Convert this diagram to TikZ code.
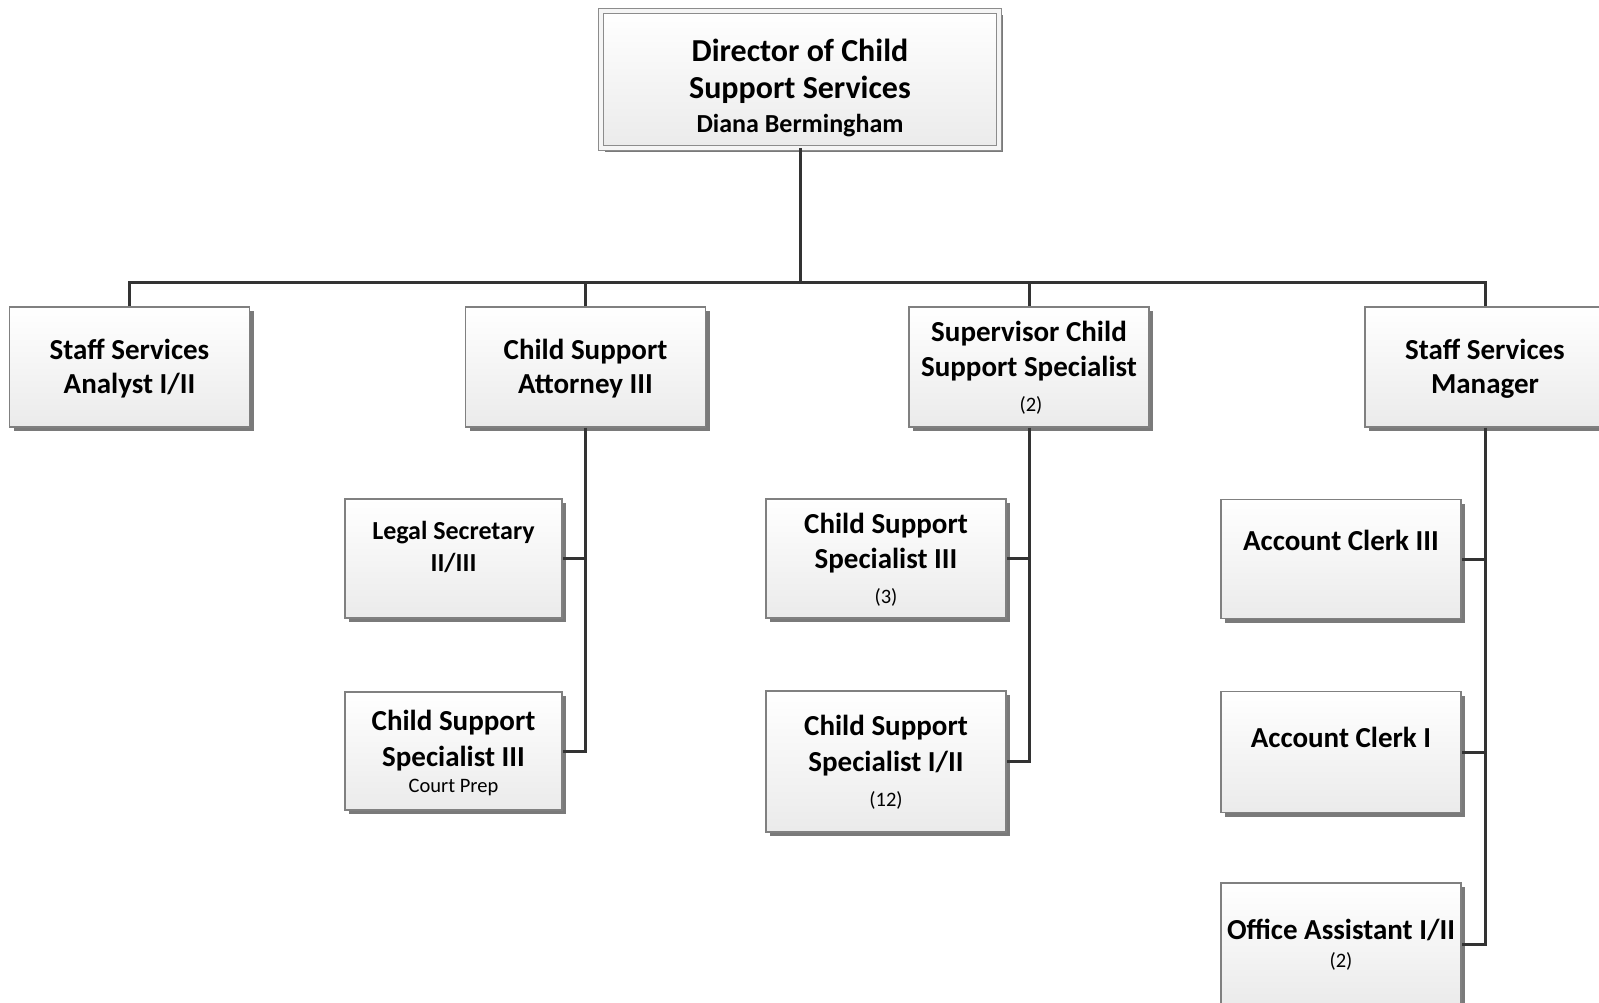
\documentclass[tikz,border=0pt]{standalone}
\usepackage{fontspec}
\setmainfont{Carlito}
\usetikzlibrary{shadows}

\tikzset{
  box/.style={draw=black!50, line width=1.1pt,
    top color=white, bottom color=black!8,
    minimum width=240pt, minimum height=120pt, inner sep=0pt,
    drop shadow={shadow xshift=4pt, shadow yshift=-4pt, fill=black!52, opacity=1}},
  wire/.style={draw=black!80, line width=3pt},
  ttl/.style={inner sep=0pt, text height=18.3pt, text depth=0pt,
    font=\bfseries\fontsize{29}{29}\selectfont},
  ttlbig/.style={inner sep=0pt, text height=20.2pt, text depth=0pt,
    font=\bfseries\fontsize{32}{32}\selectfont},
  ttlmid/.style={inner sep=0pt, text height=16.4pt, text depth=0pt,
    font=\bfseries\fontsize{26}{26}\selectfont},
  note/.style={inner sep=0pt, text height=13pt, text depth=0pt,
    font=\fontsize{20.5}{20.5}\selectfont},
}

\begin{document}
\begin{tikzpicture}[x=1pt, y=-1pt]
\path[use as bounding box, clip] (0,0) rectangle (1599,1003);
\fill[white] (0,0) rectangle (1599,1003);

% director
\node[box, minimum width=398pt, minimum height=137pt,
      draw=black!45, line width=0.9pt, double=black!4, double distance=4pt]
      (dir) at (800,79.5) {};
\node[ttlbig] (dir-a) at (800,51) {Director of Child};
\node[ttlbig] (dir-b) at (800,88.7) {Support Services};
\node[ttlmid] (dir-c) at (800,124.4) {Diana Bermingham};

% second level
\node[box] (analyst) at (129.5,367) {};
\node[ttl] (analyst-a) at (129.5,350) {Staff Services};
\node[ttl] (analyst-b) at (129.5,384.5) {Analyst I/II};

\node[box] (attorney) at (585.5,367) {};
\node[ttl] (attorney-a) at (585.5,350) {Child Support};
\node[ttl] (attorney-b) at (585.5,384.5) {Attorney III};

\node[box] (super) at (1029,367) {};
\node[ttl] (super-a) at (1029,332.5) {Supervisor Child};
\node[ttl] (super-b) at (1029,367) {Support Specialist};
\node[note] (super-c) at (1031,405) {(2)};

\node[box] (manager) at (1485,367) {};
\node[ttl] (manager-a) at (1485,350) {Staff Services};
\node[ttl] (manager-b) at (1485,384.5) {Manager};

% third level, attorney
\node[box, minimum width=217pt, minimum height=119pt] (legal) at (453.5,558.5) {};
\node[ttlmid] (legal-a) at (453.5,531) {Legal Secretary};
\node[ttlmid] (legal-b) at (453.5,563) {II/III};

\node[box, minimum width=217pt, minimum height=118pt] (court) at (453.5,751) {};
\node[ttl] (court-a) at (453.5,721) {Child Support};
\node[ttl] (court-b) at (453.5,757) {Specialist III};
\node[note] (court-c) at (453.5,786) {Court Prep};

% third level, supervisor
\node[box, minimum height=119pt] (css3) at (886,558.5) {};
\node[ttl] (css3-a) at (886,524) {Child Support};
\node[ttl] (css3-b) at (886,559) {Specialist III};
\node[note] (css3-c) at (886,596.5) {(3)};

\node[box, minimum height=141pt] (css12) at (886,761.5) {};
\node[ttl] (css12-a) at (886,726) {Child Support};
\node[ttl] (css12-b) at (886,762) {Specialist I/II};
\node[note] (css12-c) at (886,799.5) {(12)};

% third level, manager
\node[box, minimum height=119pt] (ac3) at (1341,559) {};
\node[ttl] (ac3-a) at (1341,541.5) {Account Clerk III};

\node[box, minimum height=121pt] (ac1) at (1341,752) {};
\node[ttl] (ac1-a) at (1341,738) {Account Clerk I};

\node[box, minimum height=122pt] (oa) at (1341,944) {};
\node[ttl] (oa-a) at (1341,930) {Office Assistant I/II};
\node[note] (oa-b) at (1341,960.5) {(2)};

% connectors
\coordinate (bus) at (800,283);
\draw[wire] (dir.south) -- (bus);
\draw[wire] (analyst.north) |- (bus) -| (manager.north);
\draw[wire] (attorney.north) -- (attorney.north |- bus);
\draw[wire] (super.north) -- (super.north |- bus);

\draw[wire] (attorney.south) |- (court.east);
\draw[wire] (attorney.south |- legal.east) -- (legal.east);

\draw[wire] (super.south) |- (css12.east);
\draw[wire] (super.south |- css3.east) -- (css3.east);

\draw[wire] (manager.south) |- (oa.east);
\draw[wire] (manager.south |- ac3.east) -- (ac3.east);
\draw[wire] (manager.south |- ac1.east) -- (ac1.east);
\end{tikzpicture}
\end{document}
